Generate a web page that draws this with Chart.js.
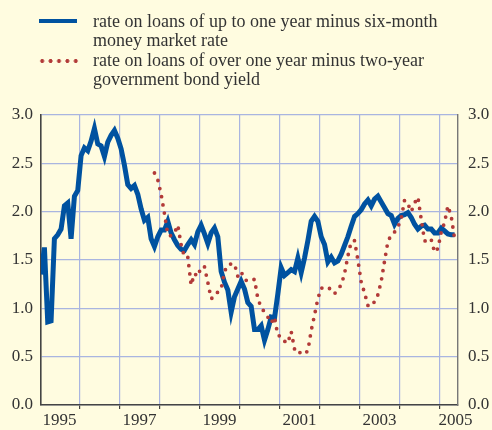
<!DOCTYPE html>
<html>
<head>
<meta charset="utf-8">
<script src="https://cdn.jsdelivr.net/npm/chart.js@4"></script>
<style>
  html, body { margin: 0; padding: 0; background: #FFFCE0; }
  #wrap { position: relative; width: 492px; height: 430px; background: #FFFCE0; overflow: hidden; }
  #chart { position: absolute; left: 0; top: 0; }
  .legend-text {
    position: absolute; left: 93px;
    font-family: 'Liberation Serif', 'Times New Roman', serif;
    font-size: 18px; line-height: 19px; color: #333; white-space: nowrap;
  }
  .swatch-line { position: absolute; left: 39px; top: 19px; width: 38px; height: 4px; background: #0052A0; }
  .swatch-dots {
    position: absolute; left: 37.5px; top: 59.3px; width: 42px; height: 4px;
    background: radial-gradient(circle, #B23A38 1.7px, transparent 2.2px) repeat-x;
    background-size: 8.4px 4px;
  }
</style>
</head>
<body>
<div id="wrap">
  <canvas id="chart" width="492" height="430"></canvas>
  <div class="swatch-line"></div>
  <div class="legend-text" style="top:12px">rate on loans of up to one year minus six-month<br>money market rate</div>
  <div class="swatch-dots"></div>
  <div class="legend-text" style="top:51px">rate on loans of over one year minus two-year<br>government bond yield</div>
</div>
<script>
// monthly series, first value = Jan 1995
const firstYear = 1995;

// rate on loans of up to one year minus six-month money market rate
const shortSpread = [
    1.35, 1.63, 0.86, 0.87, 1.72, 1.76, 1.82, 2.06, 2.09, 1.72, 2.16, 2.22, // 1995
    2.58, 2.66, 2.63, 2.73, 2.86, 2.70, 2.68, 2.57, 2.72, 2.79, 2.84, 2.76, // 1996
    2.65, 2.48, 2.28, 2.24, 2.27, 2.18, 2.03, 1.91, 1.94, 1.72, 1.64, 1.74, // 1997
    1.81, 1.81, 1.90, 1.78, 1.71, 1.65, 1.61, 1.60, 1.66, 1.71, 1.66, 1.79, // 1998
    1.86, 1.77, 1.67, 1.78, 1.83, 1.74, 1.38, 1.27, 1.19, 0.96, 1.12, 1.20, // 1999
    1.28, 1.20, 1.06, 1.02, 0.78, 0.78, 0.82, 0.67, 0.78, 0.91, 0.90, 1.15, // 2000
    1.42, 1.34, 1.37, 1.40, 1.38, 1.52, 1.37, 1.52, 1.70, 1.90, 1.95, 1.90, // 2001
    1.74, 1.66, 1.48, 1.53, 1.47, 1.49, 1.56, 1.65, 1.74, 1.85, 1.95, 1.98, // 2002
    2.02, 2.08, 2.12, 2.06, 2.13, 2.16, 2.10, 2.04, 1.98, 1.96, 1.87, 1.93, // 2003
    1.96, 1.97, 1.99, 1.94, 1.87, 1.82, 1.85, 1.86, 1.82, 1.82, 1.78, 1.78, // 2004
    1.83, 1.80, 1.77, 1.76, 1.76                                            // 2005
];

// rate on loans of over one year minus two-year government bond yield, from Nov 1997
const longStartMonth = 34;
const longSpread = [
    2.40, 2.33,                                                             // 1997
    2.18, 1.98, 1.76, 1.75, 1.78, 1.86, 1.66, 1.53, 1.53, 1.24, 1.36, 1.33, // 1998
    1.43, 1.43, 1.27, 1.10, 1.12, 1.17, 1.20, 1.38, 1.45, 1.46, 1.46, 1.33, // 1999
    1.38, 1.30, 1.28, 1.29, 1.30, 1.10, 1.01, 0.96, 0.91, 0.85, 0.91, 0.72, // 2000
    0.71, 0.66, 0.64, 0.76, 0.58, 0.53, 0.55, 0.53, 0.56, 0.77, 0.93, 1.10, // 2001
    1.21, 1.21, 1.22, 1.19, 1.15, 1.20, 1.24, 1.36, 1.54, 1.69, 1.70, 1.50, // 2002
    1.27, 1.16, 1.03, 1.02, 1.07, 1.14, 1.28, 1.49, 1.69, 1.76, 1.79, 1.84, // 2003
    1.93, 2.12, 2.08, 2.00, 2.09, 2.15, 1.92, 1.70, 1.68, 1.71, 1.58, 1.62, // 2004
    1.79, 1.89, 2.06, 1.95, 1.72                                            // 2005
];

const yearLabels = [1995, 1997, 1999, 2001, 2003, 2005];
const gridYears = [1996, 1997, 1998, 1999, 2000, 2001, 2002, 2003, 2004, 2005];
const yTicks = [0, 0.5, 1, 1.5, 2, 2.5, 3];

const xMin = 1995.04, xMax = 2005.46;
const blue = '#0052A0';
const red = '#B23A38';
const gridColor = '#A9B5E0';
const textColor = '#333333';
const font = { family: "'Liberation Serif', 'Times New Roman', serif", size: 17 };

function toPoints(values, startMonth) {
    return values.map((v, i) => ({ x: firstYear + (startMonth + i + 0.5) / 12, y: v }));
}

// label ticks sit in the middle of the year, grid ticks on the year boundary
const labelPos = yearLabels.map((y) => Math.min(y + 0.5, xMax - 0.06));
const xTickValues = gridYears.concat(labelPos).sort((a, b) => a - b);

const ctx = document.getElementById('chart');

new Chart(ctx, {
    type: 'line',
    data: {
        datasets: [{
            label: 'rate on loans of up to one year minus six-month money market rate',
            data: toPoints(shortSpread, 0),
            borderColor: blue,
            borderWidth: 5,
            borderJoinStyle: 'miter',
            pointRadius: 0,
            tension: 0,
            order: 2,
        }, {
            label: 'rate on loans of over one year minus two-year government bond yield',
            data: toPoints(longSpread, longStartMonth),
            borderColor: red,
            borderWidth: 3.8,
            borderDash: [0, 8.3],
            borderCapStyle: 'round',
            pointRadius: 0,
            tension: 0,
            order: 1,
        }]
    },
    options: {
        responsive: false,
        animation: false,
        devicePixelRatio: 1,
        layout: { padding: { top: 115, left: 0, right: 0, bottom: 0 } },
        plugins: {
            legend: { display: false },
            tooltip: { enabled: false },
        },
        scales: {
            x: {
                type: 'linear',
                min: xMin,
                max: xMax,
                afterBuildTicks: (scale) => {
                    scale.ticks = xTickValues.map((v) => ({ value: v }));
                },
                afterFit: (scale) => { scale.height = 25; },
                ticks: {
                    autoSkip: false,
                    maxRotation: 0,
                    padding: 1,
                    color: textColor,
                    font: font,
                    callback: (value) => {
                        const i = labelPos.indexOf(value);
                        return i >= 0 ? String(yearLabels[i]) : '';
                    }
                },
                grid: {
                    color: (c) => Number.isInteger(c.tick && c.tick.value) ? gridColor : 'rgba(0,0,0,0)',
                    lineWidth: 1.2,
                    drawTicks: true,
                    tickLength: 4,
                    tickColor: (c) => Number.isInteger(c.tick && c.tick.value) ? '#444' : 'rgba(0,0,0,0)',
                    tickWidth: 1.2,
                },
                border: { display: true, color: '#444', width: 1.6 },
            },
            y: {
                position: 'left',
                min: 0,
                max: 3,
                afterBuildTicks: (scale) => {
                    scale.ticks = yTicks.map((v) => ({ value: v }));
                },
                afterFit: (scale) => { scale.width = 41; },
                ticks: {
                    padding: 8,
                    color: textColor,
                    font: font,
                    callback: (v) => v.toFixed(1),
                },
                grid: { color: gridColor, lineWidth: 1.2, drawTicks: false },
                border: { display: true, color: '#444', width: 1.6 },
            },
            y2: {
                position: 'right',
                min: 0,
                max: 3,
                afterBuildTicks: (scale) => {
                    scale.ticks = yTicks.map((v) => ({ value: v }));
                },
                afterFit: (scale) => { scale.width = 34; },
                ticks: {
                    padding: 10,
                    color: textColor,
                    font: font,
                    callback: (v) => v.toFixed(1),
                },
                grid: { drawOnChartArea: false, drawTicks: false },
                border: { display: true, color: '#777', width: 1.4 },
            }
        }
    }
});
</script>
</body>
</html>
